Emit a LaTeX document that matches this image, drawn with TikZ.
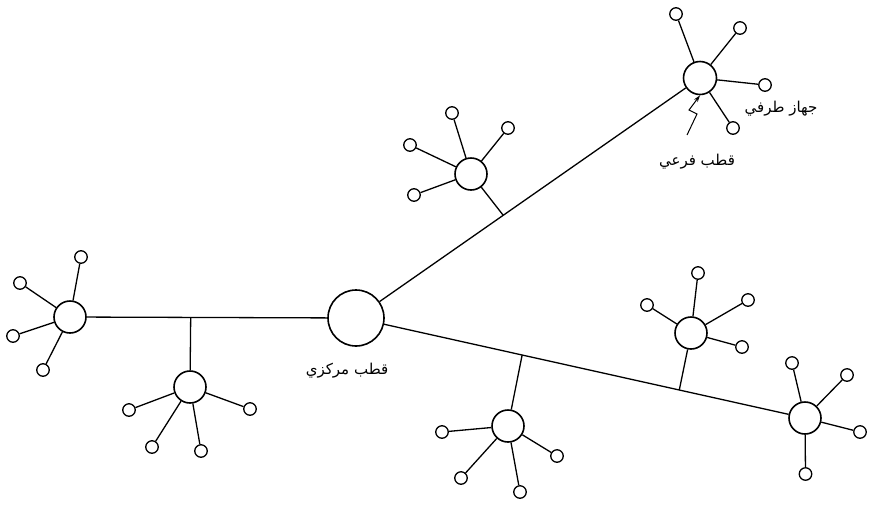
\documentclass[tikz,border=0pt]{standalone}
\usepackage{fontspec}
\usetikzlibrary{calc,arrows.meta}
\TeXXeTstate=1
\newfontfamily\arabicfont[Script=Arabic]{DejaVu Sans}
\begin{document}
\begin{tikzpicture}[x=1pt,y=-1pt,
  hub/.style={circle,draw,line width=1.6pt,fill=white,inner sep=0pt,minimum size=#1},
  leaf/.style={circle,draw,line width=1.3pt,fill=white,inner sep=0pt,minimum size=12.5pt},
  link/.style={line width=1.3pt},
  lbl/.style={font=\arabicfont\fontsize{15}{17}\selectfont}]
\useasboundingbox (0,0) rectangle (869,504);
% hubs
\node[hub=56pt] (C) at (356,318) {};
\node[hub=32pt] (L) at (70,317) {};
\node[hub=32pt] (H1) at (190,387) {};
\node[hub=33pt] (T) at (700,78) {};
\node[hub=32pt] (H2) at (471,174) {};
\node[hub=32pt] (R) at (805,418) {};
\node[hub=32pt] (H3) at (691,333) {};
\node[hub=32pt] (H4) at (508,426) {};
% junctions on trunk lines
\coordinate (J1) at ($(C)!0.578!(L)$);
\coordinate (J2) at ($(C)!0.428!(T)$);
\coordinate (J3) at ($(C)!0.72!(R)$);
\coordinate (J4) at ($(C)!0.37!(R)$);
% trunks
\draw[link] (C) -- (L);
\draw[link] (C) -- (T);
\draw[link] (C) -- (R);
\draw[link] (J1) -- (H1);
\draw[link] (J2) -- (H2);
\draw[link] (J3) -- (H3);
\draw[link] (J4) -- (H4);
% leaves
\foreach \h/\n/\x/\y in {
  L/1/81/257, L/2/20/283, L/3/13/336, L/4/43/370,
  H1/1/129/410, H1/2/152/447, H1/3/201/451, H1/4/250/409,
  T/1/676/14, T/2/740/28, T/3/765/85, T/4/733/128,
  H2/1/452/113, H2/2/508/128, H2/3/410/145, H2/4/414/195,
  R/1/792/363, R/2/847/375, R/3/860/432, R/4/805.5/474,
  H3/1/698/273, H3/2/748/300, H3/3/742/347, H3/4/647/305,
  H4/1/442/432, H4/2/461/478, H4/3/520/492, H4/4/557/456}{
  \node[leaf] (\h-\n) at (\x,\y) {};
  \draw[link] (\h) -- (\h-\n);
}
% labels
\node[lbl] (lc) at (347,371) {\beginR قطب مركزي\endR};
\node[lbl] (lt) at (781,109) {\beginR جهاز طرفي\endR};
\node[lbl] (lf) at (697,162) {\beginR قطب فرعي\endR};
% lightning arrow
\coordinate (a0) at (687,135);
\coordinate (a1) at (697,114);
\coordinate (a2) at (689,110);
\draw[line width=1pt,-{Stealth[length=7pt,width=4.5pt]}] (a0) -- (a1) -- (a2) -- (T.south);
\end{tikzpicture}
\end{document}
